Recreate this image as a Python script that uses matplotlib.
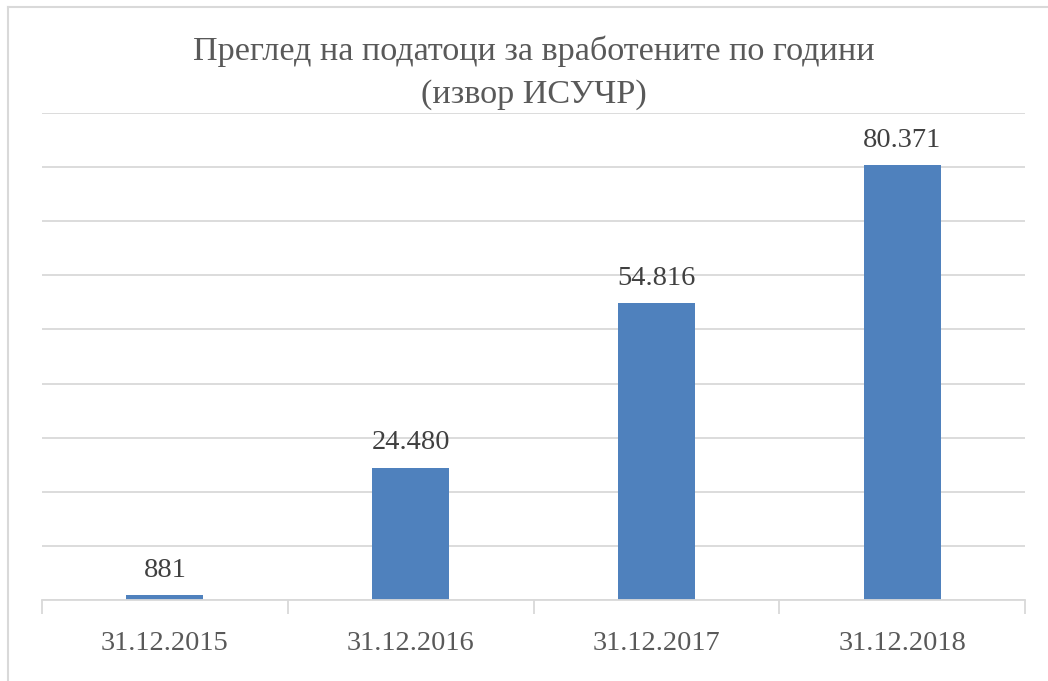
import matplotlib
matplotlib.use("Agg")
import matplotlib.pyplot as plt
from matplotlib.lines import Line2D

categories = ["31.12.2015", "31.12.2016", "31.12.2017", "31.12.2018"]
values = [881, 24480, 54816, 80371]
value_labels = ["881", "24.480", "54.816", "80.371"]
title = "Преглед на податоци за вработените по години\n(извор ИСУЧР)"

W, H = 1048, 681
fig = plt.figure(figsize=(W / 100, H / 100), dpi=100)
serif = ["Liberation Serif", "DejaVu Serif"]

ax = fig.add_axes([42 / W, 1 - 600 / H, (1025 - 42) / W, (600 - 113) / H])
x = list(range(len(categories)))
ax.bar(x, values, width=0.313, color="#4F81BD", zorder=3)
ax.set_xlim(-0.5, len(categories) - 0.5)
ax.set_ylim(0, 90000)
ax.set_yticks(range(0, 90001, 10000))
ax.yaxis.grid(True, color="#D9D9D9", linewidth=1.3, zorder=0)
ax.tick_params(axis="y", left=False, labelleft=False)
for s in ["left", "right", "top"]:
    ax.spines[s].set_visible(False)
ax.spines["bottom"].set_color("#D9D9D9")
ax.spines["bottom"].set_linewidth(1.3)
ax.spines["bottom"].set_zorder(4)

ax.set_xticks(x)
ax.set_xticklabels(categories, fontsize=20.5, color="#595959", family=serif)
ax.tick_params(axis="x", length=0, pad=22)
# category boundary ticks
ax.set_xticks([i - 0.5 for i in range(len(categories) + 1)], minor=True)
ax.tick_params(axis="x", which="minor", length=10, width=1.3, color="#D9D9D9")

for xi, v, lab in zip(x, values, value_labels):
    ax.annotate(lab, (xi, v), xytext=(0, 9), textcoords="offset points",
                ha="center", va="bottom", fontsize=20.5, color="#404040", family=serif)

fig.text(534 / W, 1 - 73 / H, title, ha="center", va="center", fontsize=24.6,
         color="#595959", family=serif, linespacing=1.5)

# outer chart border (top and left visible)
fig.add_artist(Line2D([8 / W, 8 / W], [0, 1 - 6.5 / H], transform=fig.transFigure,
                      color="#D9D9D9", linewidth=1.5))
fig.add_artist(Line2D([8 / W, 1], [1 - 6.5 / H, 1 - 6.5 / H], transform=fig.transFigure,
                      color="#D9D9D9", linewidth=1.5))

fig.savefig("out.png", dpi=100)
